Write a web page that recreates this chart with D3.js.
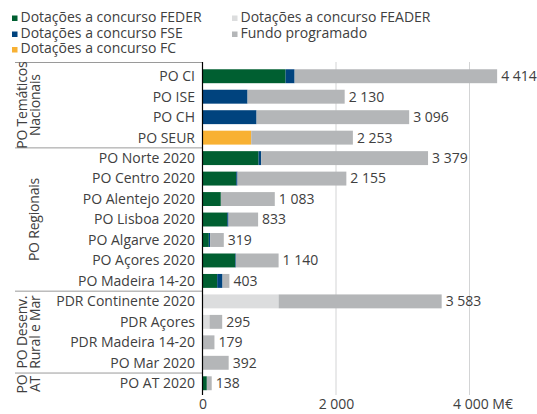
<!DOCTYPE html>
<html>
<head>
<meta charset="utf-8">
<script src="https://cdn.jsdelivr.net/npm/d3@7"></script>
<style>
  body { margin: 0; background: #fff; }
  svg { display: block; font-family: "Open Sans", sans-serif; }
  text { fill: #404040; }
</style>
</head>
<body>
<svg width="537" height="414"></svg>
<script>
// dados (M€)
var categorias = ["PO CI", "PO ISE", "PO CH", "PO SEUR",
  "PO Norte 2020", "PO Centro 2020", "PO Alentejo 2020", "PO Lisboa 2020",
  "PO Algarve 2020", "PO Açores 2020", "PO Madeira 14-20",
  "PDR Continente 2020", "PDR Açores", "PDR Madeira 14-20", "PO Mar 2020",
  "PO AT 2020"]
var feder  = [1245, 0, 0, 0, 840, 505, 275, 370, 95, 490, 220, 0, 0, 0, 0, 65]
var fse    = [135, 675, 810, 0, 40, 20, 0, 20, 20, 10, 80, 0, 0, 0, 0, 0]
var fc     = [0, 0, 0, 730, 0, 0, 0, 0, 0, 0, 0, 0, 0, 0, 0, 0]
var feader = [0, 0, 0, 0, 0, 0, 0, 0, 0, 0, 0, 1140, 105, 0, 0, 0]
var totais = [4414, 2130, 3096, 2253, 3379, 2155, 1083, 833, 319, 1140, 403, 3583, 295, 179, 392, 138]

var grupos = [
  { nome: ["PO Temáticos", "Nacionais"], de: 0, ate: 3 },
  { nome: ["PO Regionais"], de: 4, ate: 10 },
  { nome: ["PO Desenv.", "Rural e Mar"], de: 11, ate: 14 },
  { nome: ["PO", "AT"], de: 15, ate: 15 }
]

var series = [
  { nome: "Dotações a concurso FEDER", cor: "#005f31", valores: feder },
  { nome: "Dotações a concurso FSE", cor: "#00437e", valores: fse },
  { nome: "Dotações a concurso FC", cor: "#f8b133", valores: fc },
  { nome: "Dotações a concurso FEADER", cor: "#dcddde", valores: feader },
  { nome: "Fundo programado", cor: "#b4b6b8", valores: totais.map(function(t, i) {
      return t - feder[i] - fse[i] - fc[i] - feader[i] }) }
]

var ticks = [0, 2000, 4000]

var svg = d3.select("svg")
var fmt = function(v) { return d3.format(",")(v).replace(/,/g, " ") }

var x = d3.scaleLinear().domain([0, 4000]).range([202.5, 469.5])
var y = d3.scaleBand().domain(categorias).range([66, 393.5]).paddingInner(0.32).paddingOuter(0.16)
var passo = y.step()

// grelha
svg.append("g").selectAll("line").data(ticks.slice(1)).enter().append("line")
  .attr("x1", function(d) { return x(d) }).attr("x2", function(d) { return x(d) })
  .attr("y1", 62).attr("y2", 395)
  .style("stroke", "#d3d4d5").style("stroke-width", 1)

// barras empilhadas
var tabela = categorias.map(function(c, i) {
  var o = { cat: c }
  series.forEach(function(s) { o[s.nome] = s.valores[i] })
  return o
})
var stack = d3.stack().keys(series.map(function(s) { return s.nome }))(tabela)

svg.append("g").selectAll("g").data(stack).enter().append("g")
  .attr("fill", function(d, i) { return series[i].cor })
  .selectAll("rect").data(function(d) { return d }).enter().append("rect")
  .attr("x", function(d) { return x(d[0]) })
  .attr("width", function(d) { return Math.max(0, x(d[1]) - x(d[0])) })
  .attr("y", function(d) { return y(d.data.cat) })
  .attr("height", y.bandwidth())

// valores
svg.append("g").selectAll("text").data(totais).enter().append("text")
  .attr("x", function(d) { return x(d) + 4 })
  .attr("y", function(d, i) { return y(categorias[i]) + y.bandwidth() / 2 })
  .attr("dy", "0.35em")
  .style("font-size", "14px")
  .text(function(d) { return fmt(d) })

// rotulos das categorias
svg.append("g").selectAll("text").data(categorias).enter().append("text")
  .attr("x", 195)
  .attr("y", function(d) { return y(d) + y.bandwidth() / 2 })
  .attr("dy", "0.35em")
  .attr("text-anchor", "end")
  .style("font-size", "14px")
  .text(function(d) { return d })

// separadores dos grupos
var limites = [62.5].concat(grupos.slice(1).map(function(g) { return y(categorias[g.de]) - passo * 0.16 }))
svg.append("g").selectAll("line").data(limites).enter().append("line")
  .attr("x1", 15).attr("x2", 202)
  .attr("y1", function(d) { return d }).attr("y2", function(d) { return d })
  .style("stroke", "#9a9a9a").style("stroke-width", 1)

// nomes dos grupos (rodados)
grupos.forEach(function(g) {
  var topo = g.de == 0 ? 62.5 : y(categorias[g.de]) - passo * 0.16
  var fundo = g.ate == categorias.length - 1 ? 395 : y(categorias[g.ate]) + y.bandwidth() + passo * 0.16
  var meio = (topo + fundo) / 2
  g.nome.forEach(function(linha, k) {
    var bx = g.nome.length == 1 ? 39 : (k == 0 ? 26.5 : 39.5)
    svg.append("text")
      .attr("transform", "translate(" + bx + "," + meio + ") rotate(-90)")
      .attr("text-anchor", "middle")
      .style("font-size", "14px").style("letter-spacing", "-0.2px")
      .text(linha)
  })
})

// eixo vertical
svg.append("line")
  .attr("x1", 202.5).attr("x2", 202.5).attr("y1", 62).attr("y2", 395)
  .style("stroke", "#000").style("stroke-width", 1.2)

// eixo horizontal (so rotulos)
var eixo = svg.append("g").attr("transform", "translate(0,395)")
  .call(d3.axisBottom(x).tickValues(ticks).tickSize(0).tickPadding(4)
    .tickFormat(function(d) { return fmt(d) }))
eixo.select(".domain").remove()
eixo.selectAll("text")
  .style("font-size", "14px")
  .style("font-family", "'Open Sans', sans-serif").attr("fill", "#404040")
eixo.selectAll(".tick").filter(function(d) { return d == 4000 }).select("text")
  .attr("text-anchor", "start").attr("x", -17)
  .text(fmt(4000) + " M€")

// legenda
var legenda = [
  { s: 0, x: 12, y: 17 }, { s: 1, x: 12, y: 33 }, { s: 2, x: 12, y: 48.5 },
  { s: 3, x: 232, y: 17 }, { s: 4, x: 232, y: 33 }
]
var itens = svg.append("g").selectAll("g").data(legenda).enter().append("g")
  .attr("transform", function(d) { return "translate(" + d.x + "," + d.y + ")" })
itens.append("rect")
  .attr("x", 0).attr("y", -1.5).attr("width", 5.5).attr("height", 5.5)
  .attr("fill", function(d) { return series[d.s].cor })
itens.append("text")
  .attr("x", 8.5).attr("dy", "0.35em")
  .style("font-size", "14px")
  .text(function(d) { return series[d.s].nome })
</script>
</body>
</html>
